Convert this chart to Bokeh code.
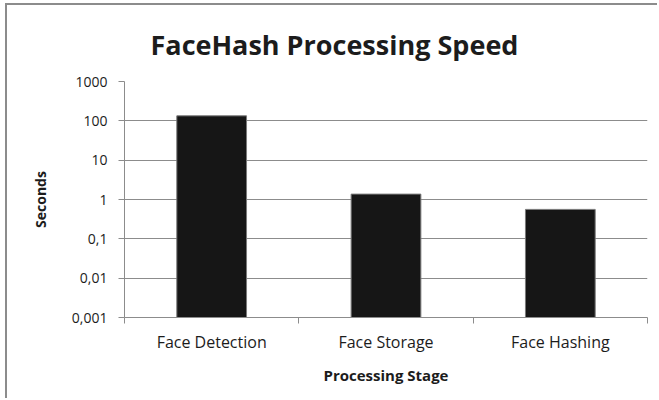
from bokeh.plotting import figure
from bokeh.models import FixedTicker, Range1d
from bokeh.embed import file_html
from bokeh.resources import INLINE

# ---- data ----
title_text = "FaceHash Processing Speed"
stages = ["Face Detection", "Face Storage", "Face Hashing"]
seconds = [134, 1.37, 0.56]
y_ticks = [0.001, 0.01, 0.1, 1, 10, 100, 1000]
y_tick_labels = ["0,001", "0,01", "0,1", "1", "10", "100", "1000"]

GRID = "#8c8c8c"
TXT = "#1c1c1c"
FONT = "Open Sans"

x_centers = [i + 0.5 for i in range(len(stages))]
x_bounds = [float(i) for i in range(len(stages) + 1)]

p = figure(width=652, height=395, output_backend="svg", toolbar_location=None,
           y_axis_type="log", x_range=Range1d(0, len(stages)),
           y_range=Range1d(y_ticks[0], y_ticks[-1]),
           min_border_left=117, min_border_right=12, min_border_top=76,
           min_border_bottom=83, title=title_text)
p.outline_line_color = None
p.background_fill_color = "white"
p.border_fill_color = "white"
# chart-area border: only its left and top edges fall inside the picture
p.styles = {"margin-left": "5px", "margin-top": "3px",
            "border-left": "2px solid #8c8c8c", "border-top": "2px solid #8c8c8c"}

p.title.align = "left"
p.title.offset = 26
p.title.standoff = 37
p.title.text_font = FONT
p.title.text_font_size = "27px"
p.title.text_font_style = "bold"
p.title.text_color = TXT

p.vbar(x=x_centers, top=seconds, bottom=y_ticks[0], width=0.4,
       fill_color="#161616", line_color="#7a7a7a", line_width=1)

# x axis
xa = p.xaxis[0]
xa.ticker = FixedTicker(ticks=x_centers, minor_ticks=x_bounds)
xa.major_label_overrides = {c: s for c, s in zip(x_centers, stages)}
xa.major_tick_line_color = None
xa.major_tick_out = 0
xa.major_tick_in = 0
xa.minor_tick_line_color = GRID
xa.minor_tick_out = 6
xa.minor_tick_in = 0
xa.axis_line_color = GRID
xa.major_label_standoff = 7
xa.major_label_text_font = FONT
xa.major_label_text_font_size = "16px"
xa.major_label_text_color = TXT
xa.axis_label = "Processing Stage"
xa.axis_label_text_font = FONT
xa.axis_label_text_font_size = "15px"
xa.axis_label_text_font_style = "bold"
xa.axis_label_text_color = TXT
xa.axis_label_standoff = 9

# y axis
ya = p.yaxis[0]
ya.ticker = FixedTicker(ticks=y_ticks)
ya.major_label_overrides = {v: s for v, s in zip(y_ticks, y_tick_labels)}
ya.major_tick_line_color = GRID
ya.major_tick_out = 6
ya.major_tick_in = 0
ya.minor_tick_line_color = None
ya.axis_line_color = GRID
ya.major_label_standoff = 11
ya.major_label_text_font = FONT
ya.major_label_text_font_size = "14px"
ya.major_label_text_color = TXT
ya.axis_label = "Seconds"
ya.axis_label_text_font = FONT
ya.axis_label_text_font_size = "14px"
ya.axis_label_text_font_style = "bold"
ya.axis_label_text_color = TXT
ya.axis_label_standoff = 19

p.xgrid.visible = False
p.ygrid.grid_line_color = GRID
p.ygrid.grid_line_width = 1

open("out.html", "w").write(file_html(p, INLINE))
